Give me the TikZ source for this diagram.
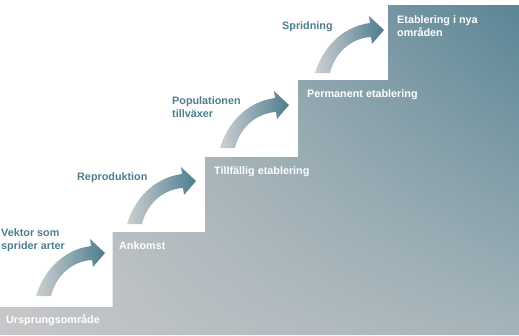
\documentclass[tikz,border=0pt]{standalone}
\usepackage{fontspec}
\setmainfont{Liberation Sans}
\usetikzlibrary{shadings}
\definecolor{stepUL}{HTML}{C2C4C6}
\definecolor{stepLL}{HTML}{C6C7C9}
\definecolor{stepLR}{HTML}{A5B4BA}
\definecolor{stepUR}{HTML}{5A8595}
\definecolor{arrowlight}{HTML}{CDD0D2}
\definecolor{arrowdark}{HTML}{4C7C8D}
\definecolor{labelteal}{HTML}{4E7D8F}
\tikzset{
  steplabel/.style={anchor=base west, inner sep=0pt, text=white, font=\fontsize{10.8}{13}\selectfont\bfseries, align=left},
  phaselabel/.style={anchor=base west, inner sep=0pt, text=labelteal, font=\fontsize{10.8}{13}\selectfont\bfseries, align=left},
  curvearrow/.style={left color=arrowlight, right color=arrowdark}
}
\begin{document}
\begin{tikzpicture}[x=1pt,y=-1pt]
\useasboundingbox (0,0) rectangle (519,335);
% staircase
\shade[upper left=stepUL, lower left=stepLL, lower right=stepLR, upper right=stepUR]
  (0,335) -- (0,307) -- (112.5,307) -- (112.5,232) -- (205,232) -- (205,157)
  -- (298,157) -- (298,80) -- (388,80) -- (388,5) -- (519,5) -- (519,335) -- cycle;
% arrows
\foreach \tx/\ty in {36/296, 127/224, 220/148, 315/73}{
  \begin{scope}[shift={(\tx,\ty)}]
    \shade[curvearrow] (0,0) .. controls (7,-23) and (25,-46) .. (55,-50)
      -- (54,-57) -- (69,-43) -- (57,-29) -- (56,-36)
      .. controls (37,-35) and (20,-21) .. (15,0) -- cycle;
  \end{scope}
}
% step labels
\node[steplabel] (s1) at (6,323.5) {Ursprungsområde};
\node[steplabel] (s2) at (119,249) {Ankomst};
\node[steplabel] (s3) at (214,174.3) {Tillfällig etablering};
\node[steplabel] (s4) at (307,97.3) {Permanent etablering};
\node[steplabel] (s5) at (397,36) {Etablering i nya\\områden};
% phase labels
\node[phaselabel] (p1) at (1,249.7) {Vektor som\\sprider arter};
\node[phaselabel] (p2) at (77,180) {Reproduktion};
\node[phaselabel] (p3) at (172,117.5) {Populationen\\tillväxer};
\node[phaselabel] (p4) at (282,29) {Spridning};
\end{tikzpicture}
\end{document}
